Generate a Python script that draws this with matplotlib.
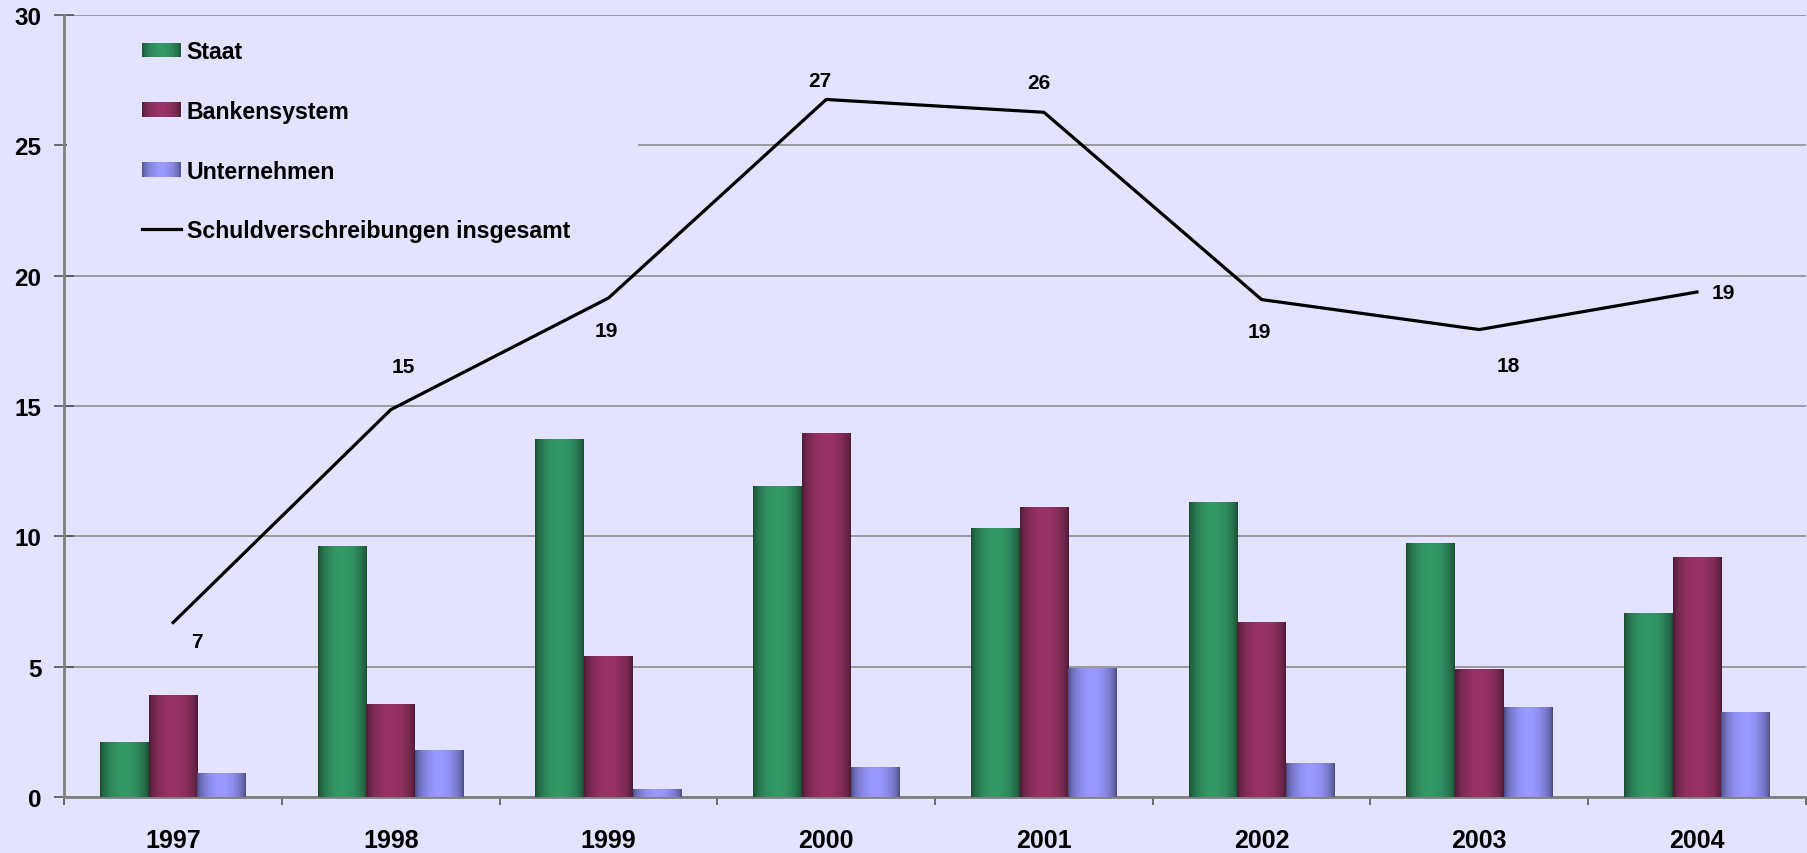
import numpy as np
import matplotlib
matplotlib.use("Agg")
import matplotlib.pyplot as plt
from matplotlib.patches import Patch, Rectangle
from matplotlib.lines import Line2D
from matplotlib.legend_handler import HandlerBase
from matplotlib.colors import to_rgb

years = ["1997", "1998", "1999", "2000", "2001", "2002", "2003", "2004"]
staat = [2.1, 9.6, 13.7, 11.9, 10.3, 11.3, 9.7, 7.05]
banken = [3.9, 3.55, 5.4, 13.95, 11.1, 6.7, 4.9, 9.2]
unternehmen = [0.9, 1.8, 0.3, 1.12, 4.92, 1.3, 3.42, 3.25]
insgesamt = [6.7, 14.86, 19.14, 26.75, 26.26, 19.08, 17.93, 19.37]
labels_insg = ["7", "15", "19", "27", "26", "19", "18", "19"]
series_names = ["Staat", "Bankensystem", "Unternehmen", "Schuldverschreibungen insgesamt"]

# label offsets in pixels (dx, dy), like the original chart's hand-placed labels
label_offsets = [(24, -19), (12, 43), (-2, -32), (-6, 19), (-5, 30), (-2, -32), (29, -36), (26, 0)]

bg = "#E3E3FF"
colours = [("#1a4a31", "#339966"), ("#4a1a33", "#993366"), ("#4a4a80", "#9999FF")]
grid_col = "#8c8c8c"
font = "Liberation Sans"


def shade(dark, light, t):
    d = np.array(to_rgb(dark))
    l = np.array(to_rgb(light))
    f = np.sin(np.pi * t) ** 0.6
    return d + (l - d) * f


def gradient(dark, light, n=64):
    t = np.linspace(0, 1, n)
    return np.array([[shade(dark, light, tt) for tt in t]])


class GradHandler(HandlerBase):
    def __init__(self, dark, light):
        super().__init__()
        self.dark = dark
        self.light = light

    def create_artists(self, legend, orig_handle, xdescent, ydescent, width, height, fontsize, trans):
        n = 20
        arts = []
        for k in range(n):
            t = (k + 0.5) / n
            r = Rectangle((-xdescent + width * k / n, -ydescent), width / n * 1.1, height,
                          facecolor=shade(self.dark, self.light, t), edgecolor="none", transform=trans)
            arts.append(r)
        return arts


fig = plt.figure(figsize=(18.08, 8.54), dpi=100, facecolor=bg)
ax = fig.add_axes([64.3 / 1808, 1 - 798.3 / 854, 1741.5 / 1808, 782.6 / 854])
ax.set_facecolor(bg)

x = np.arange(len(years))
w = 0.2237
for k, vals in enumerate([staat, banken, unternehmen]):
    bars = ax.bar(x + (k - 1) * w, vals, w, color="none", edgecolor="none", zorder=3)
    grad = gradient(*colours[k])
    for b in bars:
        ax.imshow(grad, extent=[b.get_x(), b.get_x() + b.get_width(), 0, b.get_height()],
                  aspect="auto", interpolation="bilinear", zorder=3)

ax.plot(x, insgesamt, color="black", lw=2.3, zorder=5, solid_joinstyle="miter")
for i, (v, lab) in enumerate(zip(insgesamt, labels_insg)):
    dx, dy = label_offsets[i]
    ax.annotate(lab, (x[i], v), xytext=(dx * 0.72, dy * 0.72), textcoords="offset points",
                ha="center", va="center", fontsize=15, fontweight="bold", family=font, zorder=6)

ax.set_xlim(-0.5, len(years) - 0.5)
ax.set_ylim(0, 30)
ax.set_yticks(range(0, 31, 5))
ax.yaxis.grid(True, color=grid_col, lw=1.2, zorder=0)
ax.set_axisbelow(True)

ax.set_xticks(np.arange(-0.5, len(years), 1))
ax.set_xticklabels([])
ax.set_xticks(x, minor=True)
ax.set_xticklabels(years, minor=True)
ax.tick_params(axis="x", which="major", direction="out", length=6, width=1.2, color="#555555")
ax.tick_params(axis="x", which="minor", length=0, pad=22, labelsize=18)
ax.tick_params(axis="y", direction="inout", length=14, width=1.2, color="#555555", pad=9.4, labelsize=17.5)
for lab in ax.get_xticklabels(minor=True) + ax.get_yticklabels():
    lab.set_fontweight("bold")
    lab.set_family(font)

for s in ["top", "right"]:
    ax.spines[s].set_visible(False)
for s in ["left", "bottom"]:
    ax.spines[s].set_color("#808080")
    ax.spines[s].set_linewidth(2)

# legend box covering the gridline behind it
ax.add_patch(Rectangle((0.0015, 0.70), 0.328, 0.285, transform=ax.transAxes,
                       facecolor=bg, edgecolor="none", zorder=1))

handles = [Patch(label=series_names[k]) for k in range(3)]
handles.append(Line2D([], [], color="black", lw=2.3, label=series_names[3]))
hmap = {handles[k]: GradHandler(*colours[k]) for k in range(3)}
leg = ax.legend(handles=handles, handler_map=hmap, loc="upper left",
                bbox_to_anchor=(0.0446, 0.9673), frameon=False, borderpad=0, borderaxespad=0,
                handlelength=1.67, handleheight=0.6, handletextpad=0.26, labelspacing=1.58,
                prop={"family": font, "weight": "bold", "size": 16.7})
leg.set_zorder(6)

fig.savefig("out.png", dpi=100, facecolor=bg)
